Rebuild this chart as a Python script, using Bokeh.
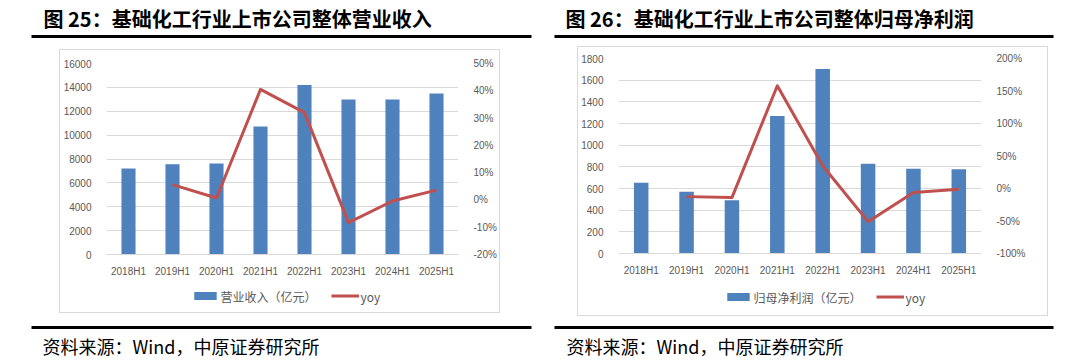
from bokeh.plotting import figure
from bokeh.models import (FactorRange, Range1d, LinearAxis, FixedTicker,
                          NumeralTickFormatter, Legend, LegendItem, Spacer,
                          ColumnDataSource)
from bokeh.layouts import row, column
from bokeh.core.properties import value
from bokeh.embed import file_html
from bokeh.resources import INLINE

# ---------------- data ----------------
periods = ["2018H1", "2019H1", "2020H1", "2021H1", "2022H1", "2023H1", "2024H1", "2025H1"]

revenue = [7200, 7560, 7620, 10720, 14190, 12980, 12980, 13480]          # 亿元
revenue_yoy = [None, 0.056, 0.007, 0.405, 0.320, -0.083, -0.004, 0.036]

profit = [653, 570, 492, 1269, 1704, 828, 783, 777]                      # 亿元
profit_yoy = [None, -0.125, -0.14, 1.58, 0.35, -0.51, -0.06, -0.01]

rev_ticks = [0, 2000, 4000, 6000, 8000, 10000, 12000, 14000, 16000]
rev_yoy_ticks = [-0.2, -0.1, 0.0, 0.1, 0.2, 0.3, 0.4, 0.5]
profit_ticks = [0, 200, 400, 600, 800, 1000, 1200, 1400, 1600, 1800]
profit_yoy_ticks = [-1.0, -0.5, 0.0, 0.5, 1.0, 1.5, 2.0]

title_left = "图 25：基础化工行业上市公司整体营业收入"
title_right = "图 26：基础化工行业上市公司整体归母净利润"
bar_label_left = "营业收入（亿元）"
bar_label_right = "归母净利润（亿元）"
line_label = "yoy"
source_text = "资料来源：Wind，中原证券研究所"

BLUE = "#4F81BD"
RED = "#C0504D"
GRID = "#D9D9D9"
TICK = "#595959"
CJK = "Noto Sans CJK SC"
NUM = "Liberation Sans"


def text_strip(w, h, title, ty, tx, rule_y, rule_x0, rule_x1, size, bold):
    p = figure(width=w, height=h, x_range=Range1d(0, w), y_range=Range1d(h, 0),
               x_axis_type=None, y_axis_type=None, toolbar_location=None,
               output_backend="svg", min_border=0, title=None)
    p.outline_line_color = None
    p.grid.visible = False
    p.segment(x0=[rule_x0], y0=[rule_y], x1=[rule_x1], y1=[rule_y],
              line_color="#000000", line_width=3)
    p.text(x=[tx], y=[ty], text=[title], text_font=value(CJK),
           text_font_size=size, text_font_style="bold" if bold else "normal",
           text_baseline="middle", text_align="left", text_color="#000000")
    return p


def chart(values, yoy, ticks, yoy_ticks, bar_label, w, h, bl, br, bt, bb, lh, lshift):
    p = figure(width=w, height=h, x_range=FactorRange(*periods),
               y_range=Range1d(ticks[0], ticks[-1]),
               toolbar_location=None, output_backend="svg",
               min_border_left=bl, min_border_right=br,
               min_border_top=bt, min_border_bottom=bb)
    p.outline_line_color = None
    p.extra_y_ranges = {"yoy": Range1d(yoy_ticks[0], yoy_ticks[-1])}

    src = ColumnDataSource(dict(period=periods, value=values))
    lsrc = ColumnDataSource(dict(period=periods[1:], yoy=yoy[1:]))
    bar_kw = dict(x="period", top="value", width=0.32, source=src,
                  fill_color=BLUE, line_color=None)
    line_kw = dict(x="period", y="yoy", source=lsrc, line_color=RED,
                   line_width=3, line_join="round")
    p.vbar(**bar_kw)
    p.line(y_range_name="yoy", **line_kw)

    p.xgrid.visible = False
    p.ygrid.grid_line_color = GRID
    p.ygrid.ticker = FixedTicker(ticks=ticks)
    ya = p.yaxis[0]
    ya.ticker = FixedTicker(ticks=ticks)
    ra = LinearAxis(y_range_name="yoy", ticker=FixedTicker(ticks=yoy_ticks),
                    formatter=NumeralTickFormatter(format="0%"))
    p.add_layout(ra, "right")
    ya.major_label_standoff = 9
    ra.major_label_standoff = 9
    for ax in (ya, ra):
        ax.axis_line_color = None
    xa = p.xaxis[0]
    xa.axis_line_color = GRID
    xa.major_label_standoff = 5
    for ax in (ya, ra, xa):
        ax.major_tick_line_color = None
        ax.minor_tick_line_color = None
        ax.major_label_text_font = NUM
        ax.major_label_text_font_size = "10px"
        ax.major_label_text_color = TICK

    # legend strip below the chart: its view lies above the data, so only the key shows
    lw_ = w - 2 * lshift
    lp = figure(width=lw_, height=lh, x_range=FactorRange(*periods),
                y_range=Range1d(2 * ticks[-1], 3 * ticks[-1]),
                x_axis_type=None, y_axis_type=None, toolbar_location=None,
                output_backend="svg", min_border=0, title=None)
    lp.outline_line_color = None
    lp.grid.visible = False
    lb = lp.vbar(**bar_kw)
    ll = lp.line(**line_kw)
    legend = Legend(items=[LegendItem(label=bar_label, renderers=[lb]),
                           LegendItem(label=line_label, renderers=[ll])],
                    orientation="horizontal", location="center",
                    margin=0, padding=0, spacing=14, label_standoff=2,
                    glyph_width=28, glyph_height=10, label_height=12,
                    label_text_font=CJK, label_text_font_size="12px",
                    label_text_color=TICK, border_line_color=None,
                    background_fill_alpha=0)
    lp.add_layout(legend, "center")
    legend_row = row(Spacer(width=2 * lshift, height=lh), lp)
    box = column(p, legend_row, styles={"border": "1px solid #D9D9D9",
                                        "box-sizing": "content-box"})
    return box


# ---------------- left panel ----------------
lw = 546
left_head = text_strip(lw, 49, title_left, 17.5, 43, 36, 31, 531, "20px", True)
left_box = chart(revenue, revenue_yoy, rev_ticks, rev_yoy_ticks, bar_label_left,
                 439, 229, 46, 40, 13, 22, 33, 6)
left_mid = row(Spacer(width=59, height=264), left_box, Spacer(width=46, height=264))
left_foot = text_strip(lw, 47, source_text, 32, 42, 14, 31, 531, "18px", False)
left_panel = column(left_head, left_mid, left_foot)

# ---------------- right panel ----------------
rw = 531
right_head = text_strip(rw, 46, title_right, 17.5, 19, 36, 8, 507, "20px", True)
right_box = chart(profit, profit_yoy, profit_ticks, profit_yoy_ticks, bar_label_right,
                  469, 231, 40, 66, 11, 20, 37, 12)
right_mid = row(Spacer(width=31, height=270), right_box, Spacer(width=29, height=270))
right_foot = text_strip(rw, 44, source_text, 29, 20, 11, 8, 507, "18px", False)
right_panel = column(right_head, right_mid, right_foot)

layout = row(left_panel, right_panel)

open("out.html", "w").write(file_html(layout, INLINE))
